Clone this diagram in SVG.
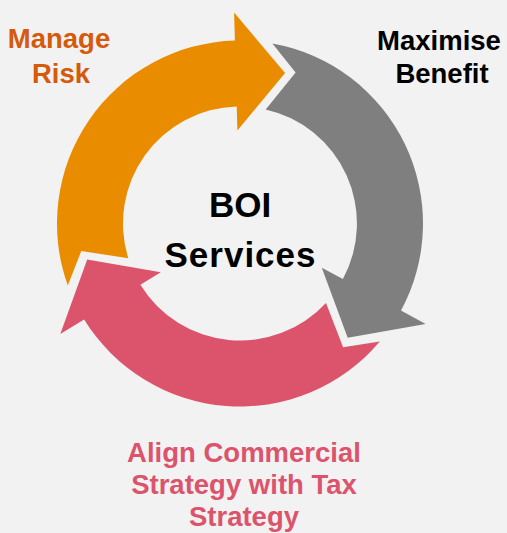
<svg xmlns="http://www.w3.org/2000/svg" width="507" height="533" viewBox="0 0 507 533">
<style>
.lbl{font-family:"Liberation Sans",Arial,sans-serif;font-weight:bold;font-size:27.5px;text-anchor:middle}
.ctr{font-family:"Liberation Sans",Arial,sans-serif;font-weight:bold;font-size:35px;text-anchor:middle;fill:#000}
</style>
<rect width="507" height="533" fill="#F2F2F2"/>
<g id="connectors">
<path id="arrow-orange" fill="#EA8C00" d="M285.1,73.1 L234.1,12.6 L234.9,40.6 A183,183 0 0 0 67.8,285.5 L81.3,250.9 L128.3,258.3 A117,117 0 0 1 236.7,106.5 L237.4,130.5 Z"/>
<path id="arrow-gray" fill="#7F7F7F" d="M347.7,337.8 L425.6,323.9 L401.0,310.5 A183,183 0 0 0 272.4,43.4 L295.6,72.4 L265.7,109.4 A117,117 0 0 1 342.9,279.1 L321.8,267.7 Z"/>
<path id="arrow-pink" fill="#DC546C" d="M87.2,259.6 L60.3,334.1 L84.1,319.4 A183,183 0 0 0 379.8,341.6 L343.1,347.2 L326.0,302.9 A117,117 0 0 1 140.4,284.8 L160.8,272.2 Z"/>
</g>
<g id="node-center">
<text class="ctr" x="240" y="217">BOI</text>
<text class="ctr" x="240" y="267" textLength="151" lengthAdjust="spacing">Services</text>
</g>
<g id="node-manage-risk">
<text class="lbl" x="59" y="48" fill="#D55A0A">Manage</text>
<text class="lbl" x="61" y="83" fill="#D55A0A">Risk</text>
</g>
<g id="node-maximise-benefit">
<text class="lbl" x="439" y="50" fill="#000">Maximise</text>
<text class="lbl" x="442" y="83" fill="#000">Benefit</text>
</g>
<g id="node-align">
<text class="lbl" x="244" y="462" fill="#DC546C">Align Commercial</text>
<text class="lbl" x="244" y="494" fill="#DC546C">Strategy with Tax</text>
<text class="lbl" x="244" y="526" fill="#DC546C">Strategy</text>
</g>
</svg>
